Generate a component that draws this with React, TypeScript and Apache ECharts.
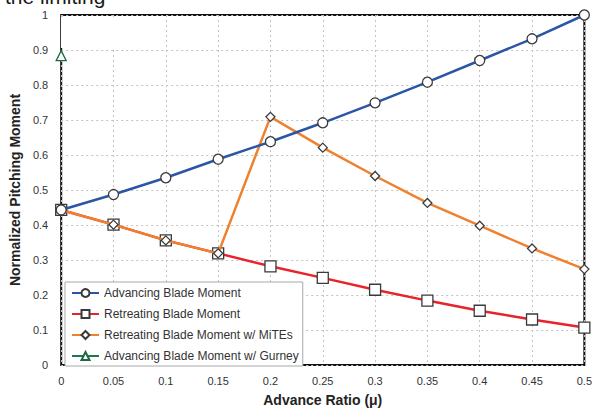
import React, { useEffect, useRef } from "react";
import * as echarts from "echarts";

// Advance ratio (mu) sample points
const advanceRatio = [0, 0.05, 0.1, 0.15, 0.2, 0.25, 0.3, 0.35, 0.4, 0.45, 0.5];

// Normalized pitching moment per case
const advancingMoment = [0.443, 0.487, 0.535, 0.588, 0.638, 0.692, 0.749, 0.808, 0.87, 0.932, 1.0];
const retreatingMoment = [0.443, 0.401, 0.356, 0.319, 0.282, 0.249, 0.215, 0.184, 0.155, 0.13, 0.107];
const retreatingMiTEs = [0.443, 0.401, 0.356, 0.319, 0.709, 0.621, 0.54, 0.463, 0.398, 0.333, 0.274];
const advancingGurneyX = [0];
const advancingGurney = [0.884];

const seriesNames = [
  "Advancing Blade Moment",
  "Retreating Blade Moment",
  "Retreating Blade Moment w/ MiTEs",
  "Advancing Blade Moment w/ Gurney",
];

const pairs = (xs: number[], ys: number[]) => ys.map((y, i) => [xs[i], y]);

const FONT = "Liberation Sans, Arial, Helvetica, sans-serif";

export default function App() {
  const ref = useRef<HTMLDivElement>(null);

  useEffect(() => {
    if (!ref.current) return;
    const chart = echarts.init(ref.current, undefined, { renderer: "svg" });

    const markerStyle = {
      color: "#ffffff",
      borderColor: "#3a3a3a",
      borderWidth: 1.3,
    };

    chart.setOption({
      animation: false,
      backgroundColor: "#ffffff",
      textStyle: { fontFamily: FONT },
      grid: {
        left: 59,
        right: 9,
        top: 15,
        bottom: 43,
        show: true,
        borderColor: "#111111",
        borderWidth: 2,
        backgroundColor: "transparent",
      },
      legend: {
        left: 65,
        top: 282,
        orient: "vertical",
        data: seriesNames,
        backgroundColor: "#ffffff",
        borderColor: "#a8a8a8",
        borderWidth: 1,
        padding: [5, 4, 4, 6],
        itemWidth: 27,
        itemHeight: 10,
        itemGap: 9,
        textStyle: { fontFamily: FONT, fontSize: 12, color: "#333333" },
        z: 10,
      },
      xAxis: {
        type: "value",
        min: 0,
        max: 0.5,
        interval: 0.05,
        name: "Advance Ratio (\u03bc)",
        nameLocation: "middle",
        nameGap: 28,
        nameTextStyle: { fontFamily: FONT, fontSize: 14, fontWeight: "bold", color: "#222222" },
        axisLine: { show: false },
        axisTick: { show: false },
        axisLabel: { fontFamily: FONT, fontSize: 11, color: "#333333", margin: 10 },
        splitLine: { show: true, lineStyle: { type: [2, 3], color: "#c4c4c4", width: 1 } },
      },
      yAxis: {
        type: "value",
        min: 0,
        max: 1,
        interval: 0.1,
        name: "Normalized Pitching Moment",
        nameLocation: "middle",
        nameGap: 35,
        nameTextStyle: { fontFamily: FONT, fontSize: 14, fontWeight: "bold", color: "#222222" },
        axisLine: { show: false },
        axisTick: { show: false },
        axisLabel: { fontFamily: FONT, fontSize: 11, color: "#333333", margin: 13 },
        splitLine: { show: true, lineStyle: { type: [2, 3], color: "#c4c4c4", width: 1 } },
      },
      graphic: [
        {
          type: "rect",
          shape: { x: 61, y: 17, width: 83, height: 31 },
          style: { fill: "#ffffff" },
          z: 1,
        },
        {
          type: "text",
          x: 5,
          y: -4,
          style: {
            text: "the limiting",
            fontSize: 21,
            fontFamily: FONT,
            fill: "#1a1a1a",
            verticalAlign: "middle",
          },
          z: 1,
        },
      ],
      series: [
        {
          name: seriesNames[1],
          type: "line",
          data: pairs(advanceRatio, retreatingMoment),
          symbol: "rect",
          symbolSize: 11,
          lineStyle: { color: "#e8232b", width: 2.5 },
          itemStyle: markerStyle,
          z: 3,
        },
        {
          name: seriesNames[2],
          type: "line",
          data: pairs(advanceRatio, retreatingMiTEs),
          symbol: "diamond",
          symbolSize: 9,
          lineStyle: { color: "#f0802e", width: 2.5 },
          itemStyle: markerStyle,
          z: 4,
        },
        {
          name: seriesNames[0],
          type: "line",
          data: pairs(advanceRatio, advancingMoment),
          symbol: "circle",
          symbolSize: 10,
          lineStyle: { color: "#2b56a6", width: 2.5 },
          itemStyle: markerStyle,
          z: 5,
        },
        {
          name: seriesNames[3],
          type: "line",
          data: pairs(advancingGurneyX, advancingGurney),
          symbol: "triangle",
          symbolSize: 10,
          lineStyle: { color: "#1b7a4c", width: 2.5 },
          itemStyle: { color: "#ffffff", borderColor: "#1b6a44", borderWidth: 1.3 },
          z: 6,
        },
      ],
    });

    return () => chart.dispose();
  }, []);

  return (
    <div
      ref={ref}
      style={{ position: "fixed", left: 0, top: 0, width: 595, height: 412 }}
    />
  );
}
